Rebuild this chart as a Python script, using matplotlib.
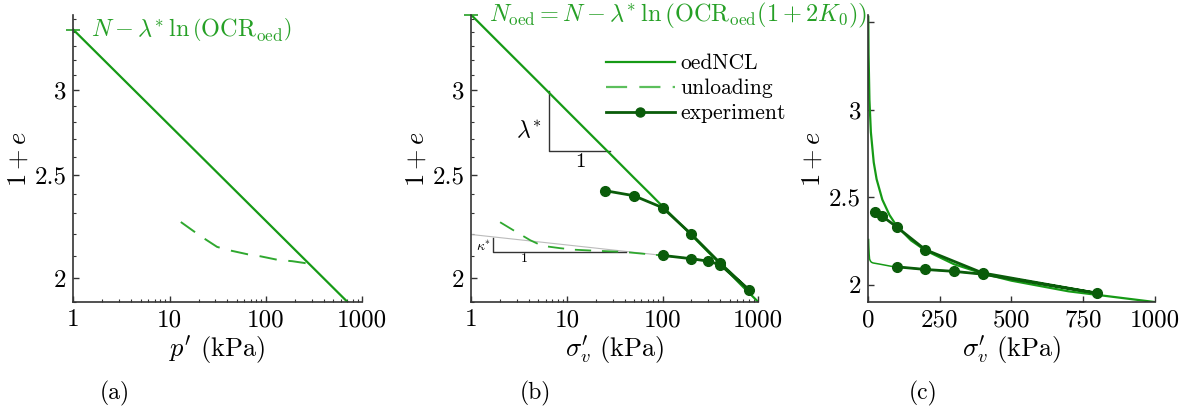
import matplotlib
matplotlib.use("Agg")
import matplotlib.pyplot as plt
from matplotlib.ticker import FixedLocator, NullFormatter

plt.rcParams['font.family'] = 'serif'
plt.rcParams['font.serif'] = ['cmr10', 'DejaVu Serif']
plt.rcParams['mathtext.fontset'] = 'cm'
plt.rcParams['axes.formatter.use_mathtext'] = True
plt.rcParams['axes.unicode_minus'] = False

# panel (a): isotropic NCL and unloading in p' space
p_ncl = [1, 1000]
e_ncl_a = [3.42, 1.842]
p_unl = [13.1, 20.9, 31.2, 41.2, 64.9, 88, 136.5, 188, 280]
e_unl_a = [2.258, 2.191, 2.140, 2.125, 2.106, 2.097, 2.080, 2.075, 2.064]

# panels (b), (c): oedometric NCL in sigma_v space
s_ncl = [1, 2, 5, 10, 20, 30, 50, 75, 100, 150, 200, 300, 400, 500, 700, 1000]
e_ncl = [3.53, 3.317, 3.056, 2.871, 2.698, 2.602, 2.485, 2.397, 2.335, 2.252,
         2.195, 2.116, 2.063, 2.022, 1.961, 1.900]

s_unl = [2.0, 2.76, 4.13, 5.5, 8.5, 12, 18, 39, 81, 100, 200, 300, 400]
e_unl = [2.257, 2.218, 2.171, 2.145, 2.134, 2.127, 2.123, 2.117, 2.104, 2.101,
         2.086, 2.075, 2.059]

s_exp = [25, 50, 100, 200, 400, 800, 400, 300, 200, 100]
e_exp = [2.416, 2.390, 2.329, 2.199, 2.066, 1.950, 2.059, 2.075, 2.086, 2.101]

# kappa* reference line and slope triangles
s_kap = [1, 100]
e_kap = [2.198, 2.101]
tri_lam_s = [6.43, 6.43, 27.9]
tri_lam_e = [2.993, 2.63, 2.63]
tri_kap_s = [1.68, 1.68, 41]
tri_kap_e = [2.182, 2.117, 2.117]

c_ncl = '#169a16'
c_unl = '#2fa82f'
c_unl_leg = '#5cbf5c'
c_exp = '#0a5c0a'
c_txt = '#26a026'
c_ax = '#333333'

fig = plt.figure(figsize=(11.81, 4.08), dpi=100)
W, H = 1181., 408.
def box(x0, x1, y0, y1):
    return [x0 / W, 1 - y1 / H, (x1 - x0) / W, (y1 - y0) / H]

axA = fig.add_axes(box(73.3, 362, 15, 302))
axB = fig.add_axes(box(471.3, 758.3, 15, 302))
axC = fig.add_axes(box(868, 1154.5, 15, 302))

def style(ax):
    for s in ['top', 'right']:
        ax.spines[s].set_visible(False)
    for s in ['left', 'bottom']:
        ax.spines[s].set_color(c_ax)
        ax.spines[s].set_linewidth(1.2)
    ax.tick_params(which='major', direction='in', length=4, width=1.0, color=c_ax, labelsize=18, pad=5)
    ax.tick_params(which='minor', direction='in', length=2.5, width=0.8, color=c_ax)
    ax.set_ylabel('$1+e$', fontsize=19, labelpad=3)

def loglog(ax):
    ax.set_xscale('log')
    ax.set_yscale('log')
    ax.set_xlim(1, 1000)
    ax.set_ylim(1.9, 3.53)
    ax.set_xticks([1, 10, 100, 1000])
    ax.set_xticklabels(['1', '10', '100', '1000'])
    ax.set_yticks([2, 2.5, 3])
    ax.set_yticklabels(['2', '2.5', '3'])
    ax.yaxis.set_minor_locator(FixedLocator([1.9, 2.1, 2.2, 2.3, 2.4, 2.6, 2.7, 2.8, 2.9, 3.1, 3.2, 3.3, 3.4, 3.5]))
    ax.yaxis.set_minor_formatter(NullFormatter())

# (a)
style(axA)
loglog(axA)
axA.plot(p_ncl, e_ncl_a, color=c_ncl, lw=1.6)
axA.plot(p_unl, e_unl_a, color=c_unl, lw=1.4, dashes=(9, 6))
axA.plot([p_ncl[0]], [e_ncl_a[0]], marker='_', ms=10, mew=1.2, color=c_txt, clip_on=False)
axA.annotate(r'$N-\lambda^{*}\,\ln\left(\mathrm{OCR}_{\mathrm{oed}}\right)$', xy=(p_ncl[0], e_ncl_a[0]),
             xytext=(13, 0), textcoords='offset points', va='center', ha='left',
             fontsize=17.5, color=c_txt, annotation_clip=False)
axA.set_xlabel("$p'$ (kPa)", fontsize=19, labelpad=2)

# (b)
style(axB)
loglog(axB)
axB.plot(s_kap, e_kap, color='#bbbbbb', lw=0.8)
axB.plot(tri_lam_s, tri_lam_e, color=c_ax, lw=1.0)
axB.plot(tri_kap_s, tri_kap_e, color=c_ax, lw=1.0)
axB.plot(s_unl, e_unl, color=c_unl, lw=1.3, dashes=(9, 6))
axB.plot(s_ncl, e_ncl, color=c_ncl, lw=1.6)
axB.plot(s_exp, e_exp, color=c_exp, lw=2.0, marker='o', ms=7)
axB.plot([s_ncl[0]], [e_ncl[0]], marker='_', ms=10, mew=1.2, color=c_txt, clip_on=False)
axB.annotate(r'$N_{\mathrm{oed}}=N-\lambda^{*}\,\ln\left(\mathrm{OCR}_{\mathrm{oed}}(1+2K_0)\right)$',
             xy=(s_ncl[0], e_ncl[0]), xytext=(13, 0), textcoords='offset points',
             va='center', ha='left', fontsize=17.5, color=c_txt, annotation_clip=False)
axB.text(5.5, 2.75, r'$\lambda^{*}$', fontsize=17, ha='right', va='center')
axB.text(13.8, 2.57, '1', fontsize=15, ha='center', va='center')
axB.text(1.33, 2.142, r'$\kappa^{*}$', fontsize=10, ha='center', va='center')
axB.text(3.6, 2.087, '1', fontsize=10, ha='center', va='center')
h1, = axB.plot([], [], color=c_ncl, lw=1.6)
h2, = axB.plot([], [], color=c_unl_leg, lw=1.6, dashes=(9.5, 5.5))
h3, = axB.plot([], [], color=c_exp, lw=2.0, marker='o', ms=6.5)
axB.legend([h1, h2, h3], ['oedNCL', 'unloading', 'experiment'], loc='upper right',
           bbox_to_anchor=(1.095, 0.865), frameon=False, fontsize=15.5, handlelength=3.2,
           handletextpad=0.25, labelspacing=0.25, borderaxespad=0, borderpad=0)
axB.set_xlabel(r"$\sigma_v'$ (kPa)", fontsize=19, labelpad=2)

# (c)
style(axC)
axC.set_xlim(0, 1000)
axC.set_ylim(1.9, 3.54)
axC.set_xticks([0, 250, 500, 750, 1000])
axC.set_xticklabels(['0', '250', '500', '750', '1000'])
axC.set_yticks([2, 2.5, 3, 3.5])
axC.set_yticklabels(['2', '2.5', '3', ''])
axC.plot(s_unl, e_unl, color=c_ncl, lw=1.1)
axC.plot(s_ncl, e_ncl, color=c_ncl, lw=1.6)
axC.plot(s_exp, e_exp, color=c_exp, lw=2.0, marker='o', ms=7)
axC.set_xlabel(r"$\sigma_v'$ (kPa)", fontsize=19, labelpad=2)

for x, lab in [(115, '(a)'), (535, '(b)'), (923, '(c)')]:
    fig.text(x / W, 1 - 393 / H, lab, fontsize=17, ha='center', va='center')

fig.savefig('out.png', dpi=100)
